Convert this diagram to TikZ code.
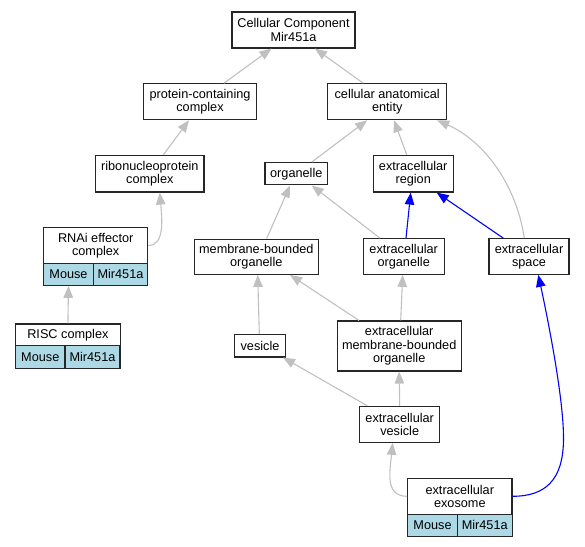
\documentclass[tikz,border=0pt]{standalone}
\usepackage{fontspec}
\setmainfont{Liberation Sans}
\usetikzlibrary{arrows.meta,calc}
\definecolor{edgegray}{HTML}{C0C0C0}
\definecolor{cellblue}{HTML}{ADD8E6}
\begin{document}
\begin{tikzpicture}[x=1bp,y=-1bp,
  box/.style={draw=black!85, line width=1.1bp, inner sep=0pt, align=center,
    font=\fontsize{12.7bp}{13.3bp}\selectfont, fill=white},
  wh/.style 2 args={minimum width=#1bp, minimum height=#2bp},
  cell/.style={box, fill=cellblue},
  isa/.style={draw=edgegray, line width=1.1bp, -{Triangle[length=12bp,width=9.5bp]}},
  bluearrow/.style={isa, draw=blue}]
\useasboundingbox (0,0) rectangle (585,547);

% nodes
\node[box, wh={123}{36}] (cc) at (293.5,30) {Cellular Component\\Mir451a};
\node[box, wh={112.3}{36}] (pcc) at (200,101.7) {protein-containing\\complex};
\node[box, wh={119}{36}] (cae) at (387.2,101.7) {cellular anatomical\\entity};
\node[box, wh={108.3}{36.7}] (rnp) at (149.8,173.7) {ribonucleoprotein\\complex};
\node[box, wh={62.7}{22.3}] (org) at (296.3,173.8) {organelle};
\node[box, wh={80.3}{36.7}] (ecr) at (413.2,173.7) {extracellular\\region};

\node[box, wh={104}{35.6}] (rnai) at (95.7,245.5) {RNAi effector\\complex};
\node[cell, wh={49.6}{22}] (rnaim) at (68.5,274.3) {Mouse};
\node[cell, wh={54.4}{22}] (rnair) at (120.5,274.3) {Mir451a};

\node[box, wh={124}{35.3}] (mbo) at (256.3,256.7) {membrane-bounded\\organelle};
\node[box, wh={80.7}{35.6}] (eco) at (403.7,256.5) {extracellular\\organelle};
\node[box, wh={80}{35.6}] (ecs) at (529,256.5) {extracellular\\space};

\node[box, wh={104.3}{21.7}] (risc) at (67.9,334.8) {RISC complex};
\node[cell, wh={49.3}{22.6}] (riscm) at (40.3,357) {Mouse};
\node[cell, wh={55}{22.6}] (riscr) at (92.5,357) {Mir451a};

\node[box, wh={50.6}{22.3}] (ves) at (260,345.8) {vesicle};
\node[box, wh={124.3}{50}] (embo) at (399.2,346) {extracellular\\membrane-bounded\\organelle};
\node[box, wh={80}{36}] (ev) at (399.7,424.3) {extracellular\\vesicle};

\node[box, wh={104.3}{36}] (exo) at (459.8,496.3) {extracellular\\exosome};
\node[cell, wh={49.6}{21.7}] (exom) at (432.5,525.2) {Mouse};
\node[cell, wh={54.7}{21.7}] (exor) at (484.7,525.2) {Mir451a};

% edges
\draw[isa] ($(pcc.north)+(24,0)$) -- ($(cc.south)+(-22,0)$);
\draw[isa] ($(cae.north)+(-24,0)$) -- ($(cc.south)+(21.5,0)$);
\draw[isa] ($(rnp.north)+(13.5,0)$) -- ($(pcc.south)+(-11,0)$);
\draw[isa] ($(org.north)+(15.4,0)$) -- ($(cae.south)+(-20,0)$);
\draw[isa] ($(ecr.north)+(-6.5,0)$) -- ($(cae.south)+(6.8,0)$);
\draw[isa] ($(ecs.north)+(-4.7,0)$) .. controls +(-9,-58.7) and +(43,19) .. ($(cae.south)+(50,0)$);
\draw[isa] (rnai.east) .. controls +(17,0) and +(2,25) .. ($(rnp.south)+(10,0)$);
\draw[isa] ($(mbo.north)+(10.4,0)$) -- ($(org.south)+(-6.3,0)$);
\draw[isa] ($(eco.north)+(-23.7,0)$) -- ($(org.south)+(15.4,0)$);
\draw[bluearrow] ($(eco.north)+(2.3,0)$) -- ($(ecr.south)+(-2.5,0)$);
\draw[bluearrow] ($(ecs.north)+(-25.7,0)$) -- ($(ecr.south)+(23.5,0)$);
\draw[isa] (risc.north) -- (rnaim.south);
\draw[isa] ($(ves.north)+(-0.7,0)$) -- ($(mbo.south)+(1.4,0)$);
\draw[isa] ($(embo.north)+(-40.2,0)$) -- ($(mbo.south)+(33.7,0)$);
\draw[isa] ($(embo.north)+(1.5,0)$) -- ($(eco.south)+(-1,0)$);
\draw[isa] ($(ev.north)+(-32.4,0)$) -- ($(ves.south)+(23,0)$);
\draw[isa] (ev.north) -- (embo.south);
\draw[isa] (exo.west) .. controls +(-22.7,0) and +(-2.7,27.7) .. ($(ev.south)+(-7,0)$);
\draw[bluearrow] (exo.east) .. controls +(33,0) and (563,480) .. (563.5,440)
  .. controls (564,400) and (548,320) .. ($(ecs.south)+(9.3,0)$);
\end{tikzpicture}
\end{document}
